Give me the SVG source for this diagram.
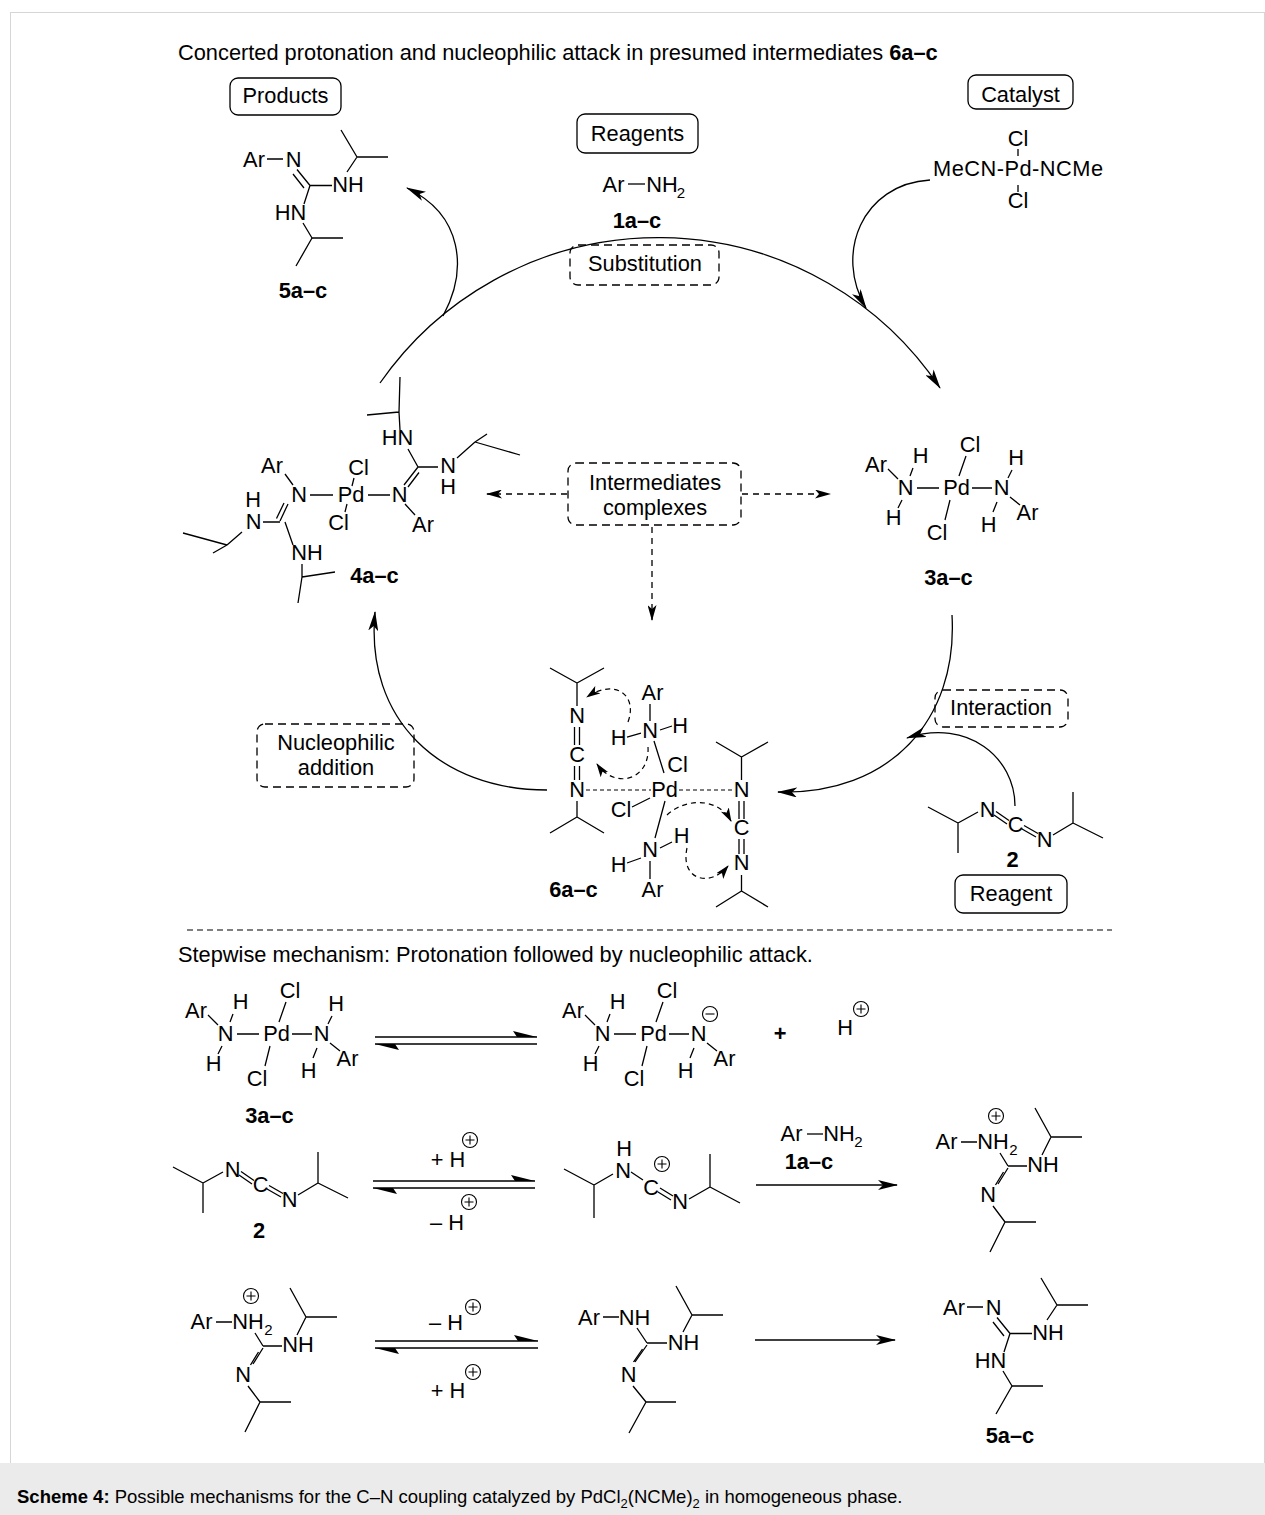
<svg xmlns="http://www.w3.org/2000/svg" xmlns:xlink="http://www.w3.org/1999/xlink" width="1265" height="1515" viewBox="0 0 1265 1515">
<style>
text{font-family:"Liberation Sans",Arial,Helvetica,sans-serif;font-size:21.8px;fill:#000}
.m{text-anchor:middle}
.b{font-weight:bold}
.s{font-size:15px}
.bd{stroke:#000;stroke-width:1.3;fill:none}
.ar{stroke:#000;stroke-width:1.3;fill:none;marker-end:url(#ah)}
.da{stroke:#000;stroke-width:1.3;fill:none;stroke-dasharray:6 5;marker-end:url(#ah2)}
.ep{stroke:#000;stroke-width:1.2;fill:none;stroke-dasharray:5 4;marker-end:url(#ah3)}
.dsh{stroke:#000;stroke-width:1.2;fill:none;stroke-dasharray:4 3}
.box{fill:none;stroke:#000;stroke-width:1.3}
.dbox{fill:none;stroke:#000;stroke-width:1.3;stroke-dasharray:8 5}
.chg{fill:none;stroke:#000;stroke-width:1.1}
.hh{fill:#000;stroke:none}
</style>
<defs>
<marker id="ah" viewBox="0 0 20 10" refX="19" refY="5" markerWidth="20" markerHeight="10" markerUnits="userSpaceOnUse" orient="auto"><path d="M0,0 L20,5 L0,10 L5,5 Z"/></marker>
<marker id="ah2" viewBox="0 0 16 9" refX="15" refY="4.5" markerWidth="16" markerHeight="9" markerUnits="userSpaceOnUse" orient="auto"><path d="M0,0 L16,4.5 L0,9 L4,4.5 Z"/></marker>
<marker id="ah3" viewBox="0 0 14 9" refX="13" refY="4.5" markerWidth="14" markerHeight="9" markerUnits="userSpaceOnUse" orient="auto"><path d="M0,0 L14,4.5 L0,9 L3.5,4.5 Z"/></marker>
<g id="pl"><circle r="7.5" class="chg"/><path d="M-4.5,0H4.5M0,-4.5V4.5" class="chg"/></g>
<g id="mi"><circle r="7.5" class="chg"/><path d="M-4.5,0H4.5" class="chg"/></g>
<g id="core3">
<text class="m" x="876" y="472">Ar</text>
<text class="m" x="905.5" y="495">N</text>
<text class="m" x="920.5" y="463">H</text>
<text class="m" x="893.5" y="525">H</text>
<text class="m" x="956.5" y="495">Pd</text>
<text class="m" x="970" y="452">Cl</text>
<text class="m" x="937" y="540">Cl</text>
<text class="m" x="1001.5" y="495">N</text>
<text class="m" x="988.5" y="532">H</text>
<text class="m" x="1027.5" y="520">Ar</text>
<path class="bd" d="M888 469L898 479M913 468L910 476M902 500L898 508M917 488H939M966 456L959 476M950 500L945 520M972 488H992M997 502L993 512M1010 497L1020 505"/>
</g>
<g id="h3">
<text class="m" x="1016" y="465">H</text>
<path class="bd" d="M1012 470L1008 478"/>
</g>
<g id="cdi">
<text class="m" x="987.5" y="817">N</text>
<text class="m" x="1015.5" y="832">C</text>
<text class="m" x="1044.5" y="847">N</text>
<path class="bd" d="M958 823L928 807M958 823L958 853M958 823L978 812M994 815L1007 824M996 811.5L1009 820.5M1022 829L1036 837M1024 825.5L1038 833.5M1053 835L1073 823M1073 823L1073 792M1073 823L1103 838"/>
</g>
<g id="gua">
<text class="m" x="946.5" y="1149">Ar</text>
<text class="m" x="993" y="1149">NH</text>
<text class="m s" x="1013.5" y="1155">2</text>
<use xlink:href="#pl" x="996" y="1116"/>
<text class="m" x="1043" y="1172">NH</text>
<text class="m" x="988" y="1202">N</text>
<path class="bd" d="M961 1142H977M1000 1153L1008 1166M1008 1166H1027M1042 1155L1051 1137M1051 1137H1082M1051 1137L1035 1108M1008 1168L998 1184M1003.5 1172L995.5 1185M993 1206L1005 1222M1005 1222H1036M1005 1222L990 1252"/>
</g>
<g id="p5">
<text class="m" x="254" y="167">Ar</text>
<text class="m" x="293.5" y="167">N</text>
<text class="m" x="348" y="192">NH</text>
<text class="m" x="290.5" y="220">HN</text>
<path class="bd" d="M267 159H283M297 169.5L310 185.5M293 174L304 188M310 185.5H332M310 185.5L304 204M303 223L312 238M312 238H343M312 238L296 266M347 172L357 157M357 157H388M357 157L341 130"/>
</g>
</defs>

<rect x="10.5" y="12.5" width="1254" height="1451" fill="#fff" stroke="#d6d6d6" stroke-width="1"/>
<rect x="0" y="1463" width="1265" height="52" fill="#ebebeb"/>

<text x="178" y="60">Concerted protonation and nucleophilic attack in presumed intermediates <tspan class="b">6a–c</tspan></text>

<g id="products-box"><rect class="box" x="230" y="78" width="111" height="37" rx="8"/><text class="m" x="285.5" y="103">Products</text></g>
<g id="reagents-box"><rect class="box" x="577" y="114" width="121" height="39" rx="8"/><text class="m" x="637.5" y="141">Reagents</text></g>
<g id="catalyst-box"><rect class="box" x="968" y="75" width="105" height="34" rx="8"/><text class="m" x="1020.5" y="102">Catalyst</text></g>
<g id="substitution-box"><rect class="dbox" x="570" y="245" width="149" height="40" rx="8"/><text class="m" x="645" y="271">Substitution</text></g>
<g id="intermediates-box"><rect class="dbox" x="568" y="463" width="173" height="62" rx="8"/><text class="m" x="655" y="490">Intermediates</text><text class="m" x="655" y="515">complexes</text></g>
<g id="interaction-box"><rect class="dbox" x="935" y="690" width="133" height="37" rx="8"/><text class="m" x="1001" y="715">Interaction</text></g>
<g id="nucleophilic-box"><rect class="dbox" x="257" y="724" width="157" height="63" rx="8"/><text class="m" x="336" y="750">Nucleophilic</text><text class="m" x="336" y="775">addition</text></g>
<g id="reagent-box"><rect class="box" x="955" y="875" width="112" height="38" rx="8"/><text class="m" x="1011" y="901">Reagent</text></g>

<g id="node-5a-top"><use xlink:href="#p5"/><text class="m b" x="303" y="298">5a–c</text></g>

<g id="node-1a">
<text class="m" x="613.5" y="192">Ar</text>
<path class="bd" d="M628 184H645"/>
<text class="m" x="662" y="192">NH</text>
<text class="m s" x="681" y="198">2</text>
<text class="m b" x="637" y="228">1a–c</text>
</g>

<g id="node-catalyst">
<text class="m" x="1018" y="146">Cl</text>
<path class="bd" d="M1018 149V156M1018 185V192"/>
<text x="933" y="176" textLength="170" lengthAdjust="spacing">MeCN-Pd-NCMe</text>
<text class="m" x="1018" y="208">Cl</text>
</g>

<g id="node-3a-top"><use xlink:href="#core3"/><use xlink:href="#h3"/><text class="m b" x="948.5" y="585">3a–c</text></g>

<g id="node-4a">
<text class="m" x="272" y="473">Ar</text>
<text class="m" x="299" y="502">N</text>
<text class="m" x="351" y="502">Pd</text>
<text class="m" x="399.5" y="502">N</text>
<text class="m" x="358.5" y="475">Cl</text>
<text class="m" x="338.5" y="530">Cl</text>
<text class="m" x="423" y="532">Ar</text>
<text class="m" x="448" y="473">N</text>
<text class="m" x="448" y="494">H</text>
<text class="m" x="397.5" y="445">HN</text>
<text class="m" x="253.5" y="529">N</text>
<text class="m" x="253" y="507">H</text>
<text class="m" x="307" y="560">NH</text>
<path class="bd" d="M285 474L293 485M310 495H333M368 495H390M354 478L352 486M347 504L345 512M405 504L415 515M404 485L418 467M408 487L419 472.5M418 467H438M418 467L408 449M400 430L399 412M399 412L367 415M399 412L400 377M457 458L475 442M475 442L520 455M475 442L487 434M288 504L280 521M284 503L276.5 518.5M280 522H263M242 532L227 545M227 545L183 533M227 545L213 553M285 522L293 545M302 564V577M302 577L335 572M302 577L298 603"/>
<text class="m b" x="374.5" y="583">4a–c</text>
</g>

<g id="node-2-top"><use xlink:href="#cdi"/><text class="m b" x="1012.5" y="867">2</text></g>

<g id="node-6a">
<text class="m" x="577" y="723">N</text>
<text class="m" x="577" y="762">C</text>
<text class="m" x="577" y="797">N</text>
<text class="m" x="664.5" y="797">Pd</text>
<text class="m" x="741.5" y="797">N</text>
<text class="m" x="741.5" y="835">C</text>
<text class="m" x="741.5" y="870">N</text>
<text class="m" x="652.5" y="700">Ar</text>
<text class="m" x="650" y="738">N</text>
<text class="m" x="680" y="733">H</text>
<text class="m" x="618.5" y="745">H</text>
<text class="m" x="677.5" y="772">Cl</text>
<text class="m" x="621" y="817">Cl</text>
<text class="m" x="650" y="857">N</text>
<text class="m" x="681.5" y="843">H</text>
<text class="m" x="618.5" y="872">H</text>
<text class="m" x="652.5" y="897">Ar</text>
<path class="bd" d="M577 706V683M577 683L550 668M577 683L604 668M574.5 727V745M579.5 727V745M574.5 766V780M579.5 766V780M577 801V817M577 817L550 833M577 817L604 833M741.5 780V757M741.5 757L716 742M741.5 757L768 742M739 801V819M744 801V819M739 839V854M744 839V854M741.5 875V891M741.5 891L716 907M741.5 891L768 907M650 704V721M660 730L672 726M627 737L641 733M654 741L664 773M632 807L650 798M665 801L655 838M660 848L672 842M627 863L641 858M650 861V879"/>
<path class="dsh" d="M586 790H651M679 790H732"/>
<text class="m b" x="573.5" y="897">6a–c</text>
</g>

<g id="separator"><path d="M187 930H1112" stroke="#000" stroke-width="1.1" stroke-dasharray="6 4"/></g>
<text x="178" y="962">Stepwise mechanism: Protonation followed by nucleophilic attack.</text>

<g id="node-3a-bottom"><g transform="translate(-680,546)"><use xlink:href="#core3"/><use xlink:href="#h3"/></g><text class="m b" x="269.5" y="1123">3a–c</text></g>

<g id="node-3a-anion"><g transform="translate(-303,546)"><use xlink:href="#core3"/></g><use xlink:href="#mi" x="710" y="1014"/></g>
<g id="node-plus"><text class="m b" x="780" y="1041">+</text></g>
<g id="node-proton"><text class="m" x="845" y="1035">H</text><use xlink:href="#pl" x="861" y="1009"/></g>

<g id="node-2-bottom"><g transform="translate(-755,360)"><use xlink:href="#cdi"/></g><text class="m b" x="259" y="1238">2</text></g>

<g id="node-cdi-H">
<text class="m" x="624" y="1156">H</text>
<text class="m" x="623" y="1178">N</text>
<text class="m" x="651" y="1195">C</text>
<text class="m" x="680" y="1209">N</text>
<use xlink:href="#pl" x="662" y="1164"/>
<path class="bd" d="M594 1185L564 1169M594 1185L594 1218M594 1185L613 1174M631 1172L643 1180M658 1192L671 1200M660 1188L673 1196M689 1199L710 1187M710 1187V1154M710 1187L740 1203"/>
</g>

<g id="node-arnh2-row2">
<text class="m" x="791.5" y="1141">Ar</text>
<path class="bd" d="M807 1134H823"/>
<text class="m" x="839" y="1141">NH</text>
<text class="m s" x="858.5" y="1147">2</text>
<text class="m b" x="809" y="1169">1a–c</text>
</g>

<g id="node-gua-row2"><use xlink:href="#gua"/></g>
<g id="node-gua-row3"><g transform="translate(-745,180)"><use xlink:href="#gua"/></g></g>

<g id="node-gua-neutral">
<text class="m" x="589" y="1325">Ar</text>
<text class="m" x="634.5" y="1325">NH</text>
<text class="m" x="683.5" y="1350">NH</text>
<text class="m" x="628.5" y="1382">N</text>
<path class="bd" d="M603 1317H619M637 1328L647 1343M647 1343H667M683 1332L692 1315M692 1315H723M692 1315L676 1286M647 1345L635 1362M642.5 1349L633.5 1362M633 1386L646 1402M646 1402H676M646 1402L629 1433"/>
</g>

<g id="node-5a-bottom"><g transform="translate(700,1148)"><use xlink:href="#p5"/></g><text class="m b" x="1010" y="1443">5a–c</text></g>

<g id="labels-eq">
<text class="m" x="448" y="1167">+ H</text><use xlink:href="#pl" x="470" y="1140"/>
<text class="m" x="447" y="1230">– H</text><use xlink:href="#pl" x="469" y="1202"/>
<text class="m" x="446" y="1330">– H</text><use xlink:href="#pl" x="473" y="1307"/>
<text class="m" x="448" y="1398">+ H</text><use xlink:href="#pl" x="473" y="1372"/>
</g>

<g id="connectors">
<path class="ar" d="M380 383A339 339 0 0 1 940 388"/>
<path class="ar" d="M443 316C468 270 463 215 407 188"/>
<path class="ar" d="M930 180C862 184 834 254 866 308"/>
<path class="ar" d="M952 615C958 720 890 795 778 792"/>
<path class="ar" d="M1015 806C1015 758 968 718 907 738"/>
<path class="ar" d="M547 790C440 790 365 720 375 612"/>
<path class="da" d="M567 494H487"/>
<path class="da" d="M742 494H830"/>
<path class="da" d="M652 527V620"/>
<path class="ep" d="M628 722C638 695 615 678 587 697"/>
<path class="ep" d="M648 747C650 780 615 790 597 764"/>
<path class="ep" d="M667 815C685 798 718 797 731 821"/>
<path class="ep" d="M687 848C680 880 710 888 728 866"/>
<path class="bd" d="M375 1037H537M375 1044H537M373 1181H535M373 1188H535M375 1341H538M375 1348H538"/>
<path class="hh" d="M537 1037L513 1031L517 1037ZM375 1044L399 1050L395 1044ZM535 1181L511 1175L515 1181ZM373 1188L397 1194L393 1188ZM538 1341L514 1335L518 1341ZM375 1348L399 1354L395 1348Z"/>
<path class="ar" d="M756 1185H897"/>
<path class="ar" d="M755 1340H895"/>
</g>

<text x="17" y="1503" style="font-size:18.5px"><tspan class="b">Scheme 4:</tspan> Possible mechanisms for the C–N coupling catalyzed by PdCl<tspan dy="5" style="font-size:13px">2</tspan><tspan dy="-5">(NCMe)</tspan><tspan dy="5" style="font-size:13px">2</tspan><tspan dy="-5"> in homogeneous phase.</tspan></text>
</svg>
